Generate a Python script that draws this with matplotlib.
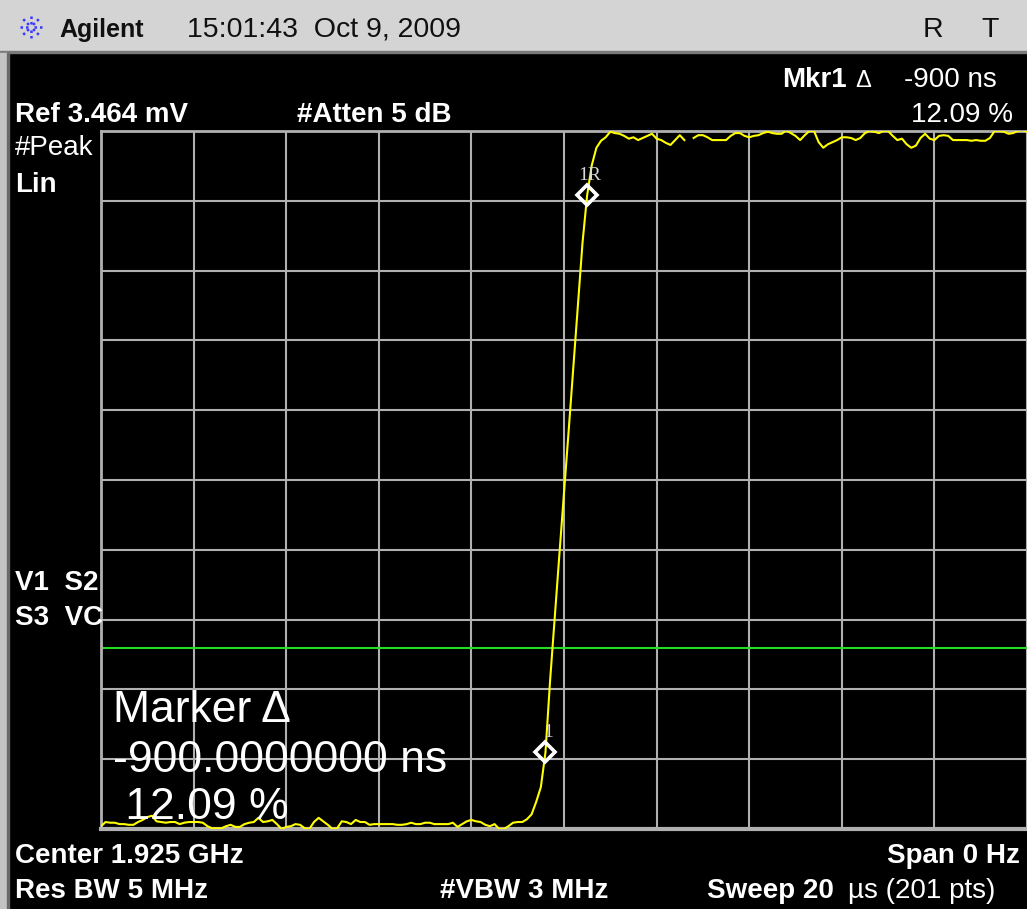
import numpy as np
import matplotlib
matplotlib.use('Agg')
import matplotlib.pyplot as plt
from matplotlib.patches import Rectangle
from matplotlib.lines import Line2D

# sweep settings
REF_MV = 3.464          # reference level (top graticule line), mV
SWEEP_US = 20.0         # sweep time, 201 points
DISPLAY_LINE_PCT = 25.9 # green display line, % of ref

# trace, in % of the reference level, one value per sweep point (201 pts)
trace_low = [
    0.4, 1.0, 0.9, 0.9, 0.7, 0.7, 0.6, 0.6, 1.0, 1.3,
    1.7, 1.9, 1.1, 1.0, 0.9, 1.0, 1.0, 0.7, 0.9, 1.0,
    1.0, 1.0, 0.9, 0.4, 0.1, 0.1, 0.1, 0.4, 0.6, 0.3,
    0.3, 0.7, 0.9, 1.0, 1.6, 1.0, 1.1, 1.3, 0.7, 0.0,
    0.3, 0.4, 0.7, 0.6, 0.1, 0.0, 1.0, 1.6, 1.1, 0.6,
    0.0, 0.1, 1.1, 1.0, 0.7, 1.3, 1.0, 1.0, 0.6, 0.7,
    0.7, 0.7, 0.7, 0.7, 0.6, 0.6, 0.7, 0.9, 0.7, 0.7,
    0.9, 0.9, 0.7, 0.7, 0.7, 0.7, 0.9, 0.3, 0.7, 1.1,
    1.3, 1.1, 1.0, 0.6, 0.4, 0.7, 0.0, 0.0, 0.4, 0.9,
    1.0, 1.0, 1.4,
]
trace_edge = [
    2.1, 3.9, 6.0, 11.0, 21.3, 30.4, 39.3, 48.1, 57.0, 66.0,
    75.1, 84.0, 90.8, 95.1, 97.6, 98.6, 99.1,
]
trace_high = [
    99.9, 99.7, 99.6, 99.3, 98.9, 99.1, 98.7, 99.0, 99.3, 99.6,
    98.9, 98.7, 98.3, 98.0, 98.7, 99.4, 98.7, np.nan, 99.0, 99.4,
    99.4, 99.1, 98.7, 98.7, 98.7, 98.7, 99.3, 99.7, 99.7, 99.3,
    99.1, 99.3, 99.4, 99.7, 99.9, 99.7, 99.6, 99.6, 100.1, 99.7,
    99.3, 98.7, 99.4, 100.0, 100.0, 98.4, 97.6, 98.1, 98.4, 98.7,
    99.1, 99.1, 99.0, 98.7, 99.0, 99.7, 100.0, 99.9, 99.7, 100.0,
    100.0, 99.3, 98.7, 98.9, 98.1, 97.6, 97.9, 99.0, 99.6, 98.9,
    98.7, 99.3, 99.4, 99.3, 98.7, 98.7, 98.7, 98.7, 98.6, 98.7,
    98.6, 98.6, 99.0, 100.0, 100.0, 99.9, 99.6, 99.7, 100.0, 100.1,
    99.9,
]

# marker 1R (reference) and marker 1 (delta), as sweep point indices
MARKER_IDX = [105, 96]
MARKER_LABELS = ['1R', '1']

trace_pct = np.array(trace_low + trace_edge + trace_high)
t_us = np.linspace(0, SWEEP_US, len(trace_pct))
trace_mv = trace_pct / 100.0 * REF_MV

W, H = 1027, 909

def fx(x):
    return x / W

def fy(y):
    return 1 - y / H

fig = plt.figure(figsize=(W / 100, H / 100), dpi=100, facecolor='black')

# screen frame: header bar and left border strip
fig.patches.append(Rectangle((0, fy(51)), 1, 51 / H, transform=fig.transFigure,
                             color='#d4d4d4', zorder=0))
fig.patches.append(Rectangle((0, fy(53)), 1, 2 / H, transform=fig.transFigure,
                             color='#7a7a7a', zorder=0))
fig.patches.append(Rectangle((0, 0), fx(7), fy(53), transform=fig.transFigure,
                             color='#c4c4c4', zorder=0))
fig.patches.append(Rectangle((fx(7), 0), fx(1.5), fy(53), transform=fig.transFigure,
                             color='#6a6a6a', zorder=0))

# little Agilent spark logo
cx, cy = 31, 27
for ang in np.arange(0, 360, 45):
    a = np.deg2rad(ang)
    xs = [fx(cx + 3 * np.cos(a)), fx(cx + 14 * np.cos(a))]
    ys = [fy(cy - 3 * np.sin(a)), fy(cy - 14 * np.sin(a))]
    fig.lines.append(Line2D(xs, ys, transform=fig.transFigure, color='#3838ff',
                            lw=1.8, linestyle=(0, (1, 1.2))))

hdr = dict(family=['Liberation Sans', 'DejaVu Sans'], color='#101010', va='baseline')
fig.text(fx(59), fy(37), 'Agilent', fontsize=18, fontweight='bold', **hdr)
fig.text(fx(187), fy(37), '15:01:43  Oct 9, 2009', fontsize=20.5, **hdr)
fig.text(fx(933), fy(37), 'R', fontsize=20.5, ha='center', **hdr)
fig.text(fx(990), fy(37), 'T', fontsize=20.5, ha='center', **hdr)

# graticule
ax = fig.add_axes([fx(101), fy(829), (W - 101) / W, (829 - 131) / H])
ax.set_facecolor('black')
ax.set_xlim(0, SWEEP_US)
ax.set_ylim(0, REF_MV)
ax.set_xticks(np.linspace(0, SWEEP_US, 11))
ax.set_yticks(np.linspace(0, REF_MV, 11))
ax.tick_params(length=0, labelbottom=False, labelleft=False)
ax.grid(True, color='#b0b0b0', lw=1.5)
ax.set_axisbelow(True)
for side in ['left', 'top', 'bottom']:
    ax.spines[side].set_color('#b0b0b0')
    ax.spines[side].set_linewidth(2)
ax.spines['bottom'].set_linewidth(3)
ax.spines['right'].set_visible(False)

ax.axhline(DISPLAY_LINE_PCT / 100.0 * REF_MV, color='#22dd22', lw=1.5, zorder=2)
ax.plot(t_us, trace_mv, color='#ffff00', lw=1.5, zorder=3)

for idx, lab in zip(MARKER_IDX, MARKER_LABELS):
    ax.plot(t_us[idx], trace_mv[idx], marker='D', ms=10, mfc='none', mec='white',
            mew=2.6, zorder=4)
    ax.annotate(lab, (t_us[idx], trace_mv[idx]), xytext=(2, 11),
                textcoords='offset points', ha='center', va='baseline',
                fontsize=14, color='#d8d8d8', family='Liberation Serif', zorder=5)

wt = dict(family=['Liberation Sans', 'DejaVu Sans'], color='white', va='baseline')
fig.text(fx(782), fy(87), 'Mkr1', fontsize=20, fontweight='bold', **wt)
fig.text(fx(855), fy(87), '\u0394', fontsize=17, **wt)
fig.text(fx(997), fy(87), '-900 ns', fontsize=20, ha='right', **wt)
fig.text(fx(1013), fy(122), '12.09 %', fontsize=20, ha='right', **wt)
fig.text(fx(15), fy(122), 'Ref 3.464 mV', fontsize=20, fontweight='bold', **wt)
fig.text(fx(297), fy(122), '#Atten 5 dB', fontsize=20, fontweight='bold', **wt)
fig.text(fx(15), fy(155), '#Peak', fontsize=20, **wt)
fig.text(fx(15), fy(192), 'Lin', fontsize=20, fontweight='bold', **wt)
fig.text(fx(15), fy(590), 'V1  S2', fontsize=20, fontweight='bold', **wt)
fig.text(fx(15), fy(625), 'S3  VC', fontsize=20, fontweight='bold', **wt)

fig.text(fx(113), fy(722), 'Marker \u0394', fontsize=32, **wt)
fig.text(fx(113), fy(772), '-900.0000000 ns', fontsize=32, **wt)
fig.text(fx(113), fy(819), ' 12.09 %', fontsize=32, **wt)

fig.text(fx(15), fy(863), 'Center 1.925 GHz', fontsize=20, fontweight='bold', **wt)
fig.text(fx(1020), fy(863), 'Span 0 Hz', fontsize=20, fontweight='bold', ha='right', **wt)
fig.text(fx(15), fy(898), 'Res BW 5 MHz', fontsize=20, fontweight='bold', **wt)
fig.text(fx(440), fy(898), '#VBW 3 MHz', fontsize=20, fontweight='bold', **wt)
fig.text(fx(707), fy(898), 'Sweep 20', fontsize=20, fontweight='bold', **wt)
fig.text(fx(995), fy(898), '\u00b5s (201 pts)', fontsize=20, ha='right', **wt)

fig.savefig('out.png', dpi=100, facecolor='black')
